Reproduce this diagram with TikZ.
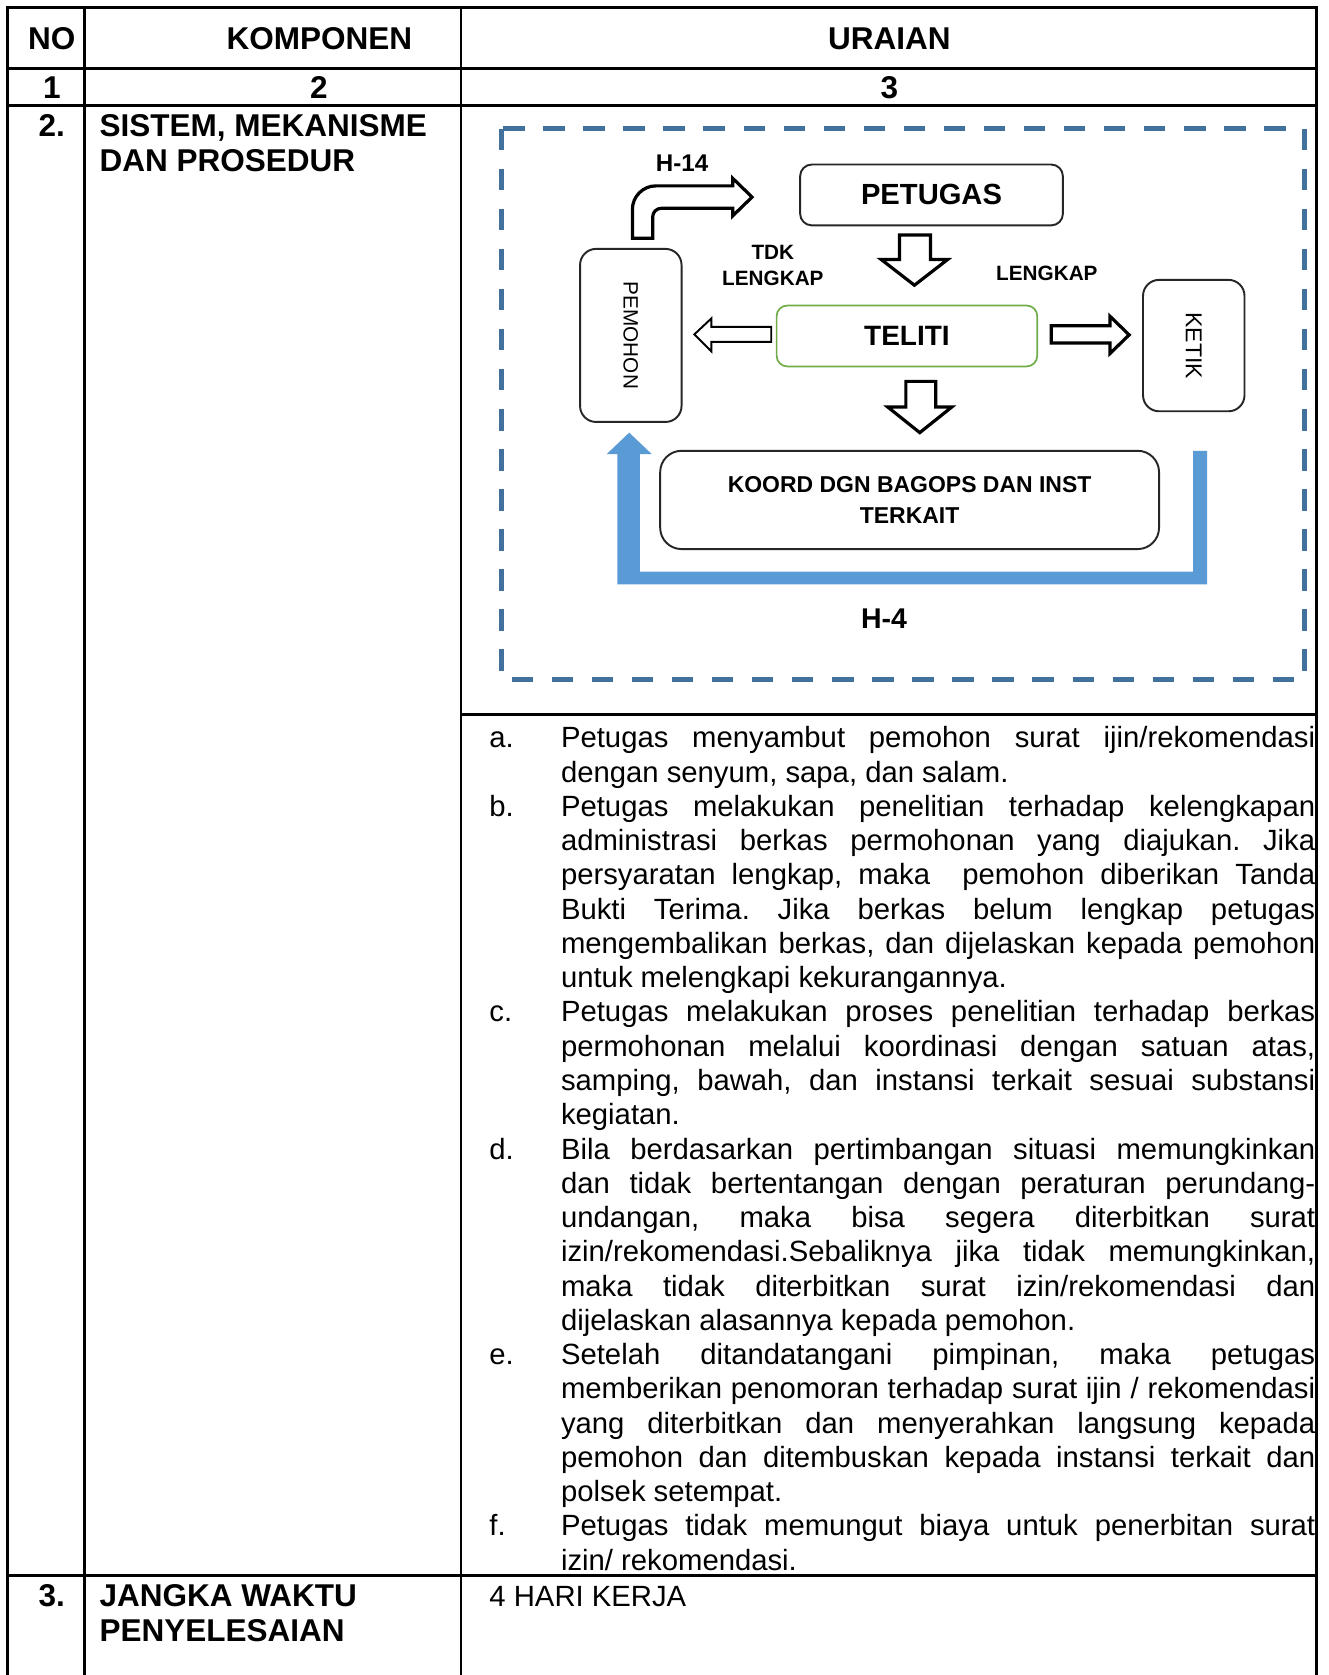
\documentclass[tikz,border=0pt]{standalone}
\usepackage{fontspec}
\setmainfont{Liberation Sans}
\definecolor{dashblue}{RGB}{65,113,156}
\definecolor{arrowblue}{RGB}{91,155,213}
\definecolor{telgreen}{RGB}{112,173,71}
\newcommand{\jline}[1]{\makebox[706pt][s]{#1}\\}
\frenchspacing
\begin{document}
\begin{tikzpicture}[x=1pt,y=-1pt,
  tbl/.style={line width=2.5pt, line cap=rect},
  hdr/.style={font=\fontsize{29.5}{33.5}\selectfont\bfseries, inner sep=0pt},
  body/.style={font=\fontsize{27.4}{32.08}\selectfont\frenchspacing, inner sep=0pt},
  item/.style={body, anchor=base west, text width=706pt, align=justify},
  box/.style={draw=black!85, line width=1.8pt, fill=white, inner sep=0pt},
  lbl/.style={font=\fontsize{19.4}{22}\selectfont\bfseries, inner sep=0pt},
  blk/.style={draw=black, line width=3pt, fill=white, line join=miter},
  dashbox/.style={draw=dashblue, line width=4.7pt, dash pattern=on 20pt off 17.5pt}
]
\useasboundingbox (0,0) rectangle (1244,1568);
\fill[white] (0,0) rectangle (1244,1568);

% ---------- table grid ----------
\draw[tbl] (7,7) -- (1232.5,7);
\draw[tbl] (7,7) -- (7,1568);
\draw[tbl] (79,7) -- (79,1568);
\draw[tbl] (431.5,7) -- (431.5,1568);
\draw[tbl] (1232.5,7) -- (1232.5,1568);
\draw[tbl] (7,64) -- (1232.5,64);
\draw[tbl] (7,99) -- (1232.5,99);
\draw[tbl] (431.5,669) -- (1232.5,669);
\draw[tbl] (7,1475) -- (1232.5,1475);

% ---------- header ----------
\node[hdr] (hno) at (48.5,36) {NO};
\node[hdr] (hkomp) at (299,36) {KOMPONEN};
\node[hdr] (hurai) at (832.5,36) {URAIAN};
\node[hdr] (n1) at (48.5,82) {1};
\node[hdr] (n2) at (298.5,82) {2};
\node[hdr] (n3) at (832.5,82) {3};

% ---------- left column ----------
\node[hdr, anchor=base west] (no2) at (36,127.5) {2.};
\node[hdr, anchor=base west] (k2a) at (93,127.5) {SISTEM, MEKANISME};
\node[hdr, anchor=base west] (k2b) at (93,161) {DAN PROSEDUR};
\node[hdr, anchor=base west] (no3) at (36,1503.5) {3.};
\node[hdr, anchor=base west] (k3a) at (93,1503.5) {JANGKA WAKTU};
\node[hdr, anchor=base west] (k3b) at (93,1537) {PENYELESAIAN};
\node[body, anchor=base west] (u3) at (458,1504) {4 HARI KERJA};

% ---------- diagram ----------
\draw[dashbox] (469.5,120.5) rectangle (1221,636);

\fill[arrowblue] (1117,422) -- (1130,422) -- (1130,547) -- (578,547) -- (578,425)
  -- (568,425) -- (589,405) -- (610,425) -- (599,425) -- (599,535) -- (1117,535) -- cycle;

\node[box, rounded corners=11pt, minimum width=246pt, minimum height=57pt,
  font=\fontsize{27.3}{30}\selectfont\bfseries] (pet) at (872,182.5) {PETUGAS};
\node[box, draw=telgreen, line width=1.6pt, rounded corners=10pt, minimum width=244pt,
  minimum height=57pt, font=\fontsize{26.2}{30}\selectfont\bfseries] (tel) at (849,314.5) {TELITI};
\node[box, rounded corners=15pt, minimum width=162pt, minimum height=95pt, rotate=-90,
  font=\fontsize{19.4}{22}\selectfont] (pem) at (590.5,314) {PEMOHON};
\node[box, rounded corners=15pt, minimum width=123pt, minimum height=95pt, rotate=-90,
  font=\fontsize{21.5}{24}\selectfont] (ket) at (1117.5,323.5) {KETIK};
\node[box, rounded corners=20pt, minimum width=467pt, minimum height=92pt, align=center,
  font=\fontsize{21.5}{29}\selectfont\bfseries] (koord) at (851.5,468) {KOORD DGN BAGOPS DAN INST\\TERKAIT};

\node[font=\fontsize{22.6}{25}\selectfont\bfseries, inner sep=0pt] (h14) at (638.5,153) {H-14};
\node[font=\fontsize{26.7}{30}\selectfont\bfseries, inner sep=0pt] (h4) at (827.5,579) {H-4};
\node[lbl] (tdk) at (723.5,236) {TDK};
\node[lbl] (tdkl) at (723.5,261) {LENGKAP};
\node[lbl] (lkp) at (980,256) {LENGKAP};

% block arrows
\draw[blk] (592,223) -- (592,196) .. controls (592,183.9) and (601.9,174) .. (614,174)
  -- (686,174) -- (686,167) -- (704,184.5) -- (686,202) -- (686,195) -- (619,195)
  .. controls (614.6,195) and (611,198.6) .. (611,203) -- (611,223) -- cycle;
\draw[blk] (842,220) -- (871,220) -- (871,243) -- (887,243) -- (856,267) -- (825,243) -- (842,243) -- cycle;
\draw[blk] (848,357) -- (876,357) -- (876,381) -- (891,381) -- (861,405) -- (831,381) -- (848,381) -- cycle;
\draw[blk, line width=1.8pt] (722,306) -- (666,306) -- (666,298) -- (650,313) -- (666,329) -- (666,320) -- (722,320) -- cycle;
\draw[blk] (984,305) -- (1039,305) -- (1039,296) -- (1057,313.5) -- (1039,331) -- (1039,321) -- (984,321) -- cycle;

% ---------- list text ----------
\node[body, anchor=base west] (la) at (458,700) {a.};
\node[item] (ia) at (525,700) {\jline{Petugas menyambut pemohon surat ijin/rekomendasi}dengan senyum, sapa, dan salam.};
\node[body, anchor=base west] (lb) at (458,764.2) {b.};
\node[item] (ib) at (525,764.2) {\jline{Petugas melakukan penelitian terhadap kelengkapan}\jline{administrasi berkas permohonan yang diajukan. Jika}\jline{persyaratan lengkap, maka \ pemohon diberikan Tanda}\jline{Bukti Terima. Jika berkas belum lengkap petugas}\jline{mengembalikan berkas, dan dijelaskan kepada pemohon}untuk melengkapi kekurangannya.};
\node[body, anchor=base west] (lc) at (458,956.6) {c.};
\node[item] (ic) at (525,956.6) {\jline{Petugas melakukan proses penelitian terhadap berkas}\jline{permohonan melalui koordinasi dengan satuan atas,}\jline{samping, bawah, dan instansi terkait sesuai substansi}kegiatan.};
\node[body, anchor=base west] (ld) at (458,1084.96) {d.};
\node[item] (id) at (525,1084.96) {\jline{Bila berdasarkan pertimbangan situasi memungkinkan}\jline{dan tidak bertentangan dengan peraturan perundang-}\jline{undangan, maka bisa segera diterbitkan surat}\jline{izin/rekomendasi.Sebaliknya jika tidak memungkinkan,}\jline{maka tidak diterbitkan surat izin/rekomendasi dan}dijelaskan alasannya kepada pemohon.};
\node[body, anchor=base west] (le) at (458,1277.4) {e.};
\node[item] (ie) at (525,1277.4) {\jline{Setelah ditandatangani pimpinan, maka petugas}\jline{memberikan penomoran terhadap surat ijin / rekomendasi}\jline{yang diterbitkan dan menyerahkan langsung kepada}\jline{pemohon dan ditembuskan kepada instansi terkait dan}polsek setempat.};
\node[body, anchor=base west] (lf) at (458,1437.8) {f.};
\node[item] (if) at (525,1437.8) {\jline{Petugas tidak memungut biaya untuk penerbitan surat}izin/ rekomendasi.};
\end{tikzpicture}
\end{document}
